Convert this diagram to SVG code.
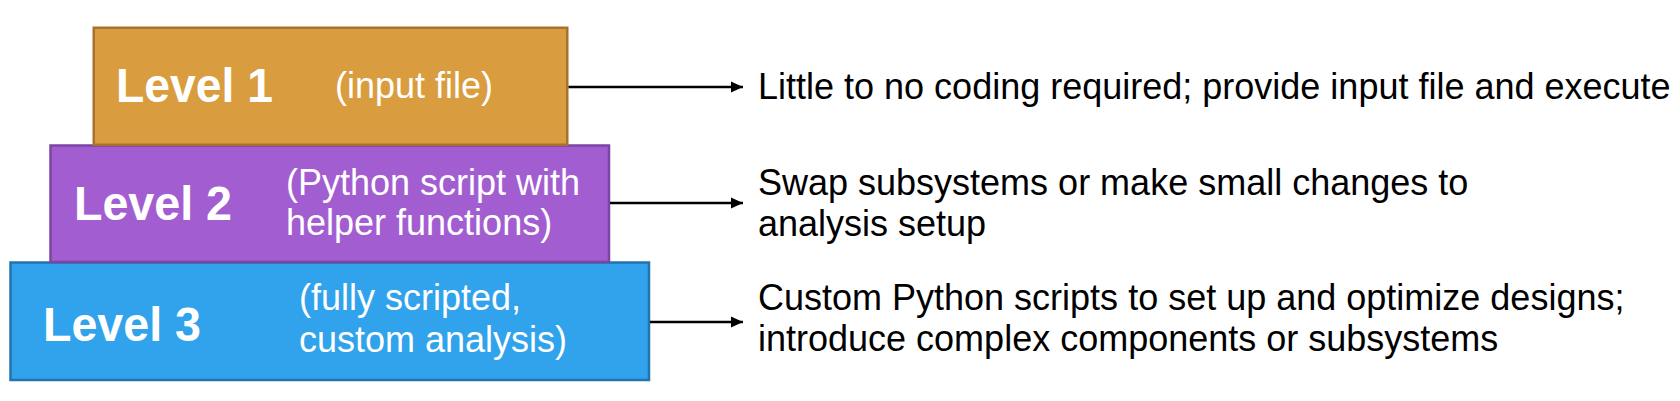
<svg xmlns="http://www.w3.org/2000/svg" width="1680" height="401" viewBox="0 0 1680 401">
  <style>
    .box { stroke-width: 2.5; }
    .lvl { font-family: "Liberation Sans", Arial, sans-serif; font-weight: bold; font-size: 49px; fill: #ffffff; }
    .sub { font-family: "Liberation Sans", Arial, sans-serif; font-size: 36px; fill: #ffffff; }
    .desc { font-family: "Liberation Sans", Arial, sans-serif; font-size: 36px; fill: #000000; }
    .conn { stroke: #000000; stroke-width: 2.5; fill: none; }
  </style>
  <defs>
    <marker id="arrow" markerUnits="userSpaceOnUse" markerWidth="14" markerHeight="12" refX="12" refY="6" orient="auto">
      <path d="M0,0.5 L12,6 L0,11.5 Z" fill="#000000"/>
    </marker>
  </defs>
  <rect width="1680" height="401" fill="#ffffff"/>

  <g id="level3">
    <rect class="box" x="10.5" y="262.5" width="638.5" height="117.5" fill="#31A2EC" stroke="#2373AE"/>
    <text class="lvl" x="43" y="341" textLength="158" lengthAdjust="spacingAndGlyphs">Level 3</text>
    <text class="sub" x="299" y="310">(fully scripted,</text>
    <text class="sub" x="299" y="352">custom analysis)</text>
  </g>

  <g id="level2">
    <rect class="box" x="50.5" y="145.5" width="558.5" height="116.5" fill="#A25ED1" stroke="#7B45A3"/>
    <text class="lvl" x="74" y="220" textLength="158" lengthAdjust="spacingAndGlyphs">Level 2</text>
    <text class="sub" x="286" y="195">(Python script with</text>
    <text class="sub" x="286" y="235">helper functions)</text>
  </g>

  <g id="level1">
    <rect class="box" x="93.75" y="27.75" width="473.5" height="117" fill="#D99C3F" stroke="#A6722D"/>
    <text class="lvl" x="116" y="102" textLength="157" lengthAdjust="spacingAndGlyphs">Level 1</text>
    <text class="sub" x="335" y="97.5">(input file)</text>
  </g>

  <g id="connectors">
    <line class="conn" x1="568.5" y1="87" x2="743" y2="87" marker-end="url(#arrow)"/>
    <line class="conn" x1="610" y1="203" x2="743" y2="203" marker-end="url(#arrow)"/>
    <line class="conn" x1="650" y1="322" x2="743" y2="322" marker-end="url(#arrow)"/>
  </g>

  <g id="desc1">
    <text class="desc" x="758" y="99">Little to no coding required; provide input file and execute</text>
  </g>
  <g id="desc2">
    <text class="desc" x="758" y="195">Swap subsystems or make small changes to</text>
    <text class="desc" x="758" y="236">analysis setup</text>
  </g>
  <g id="desc3">
    <text class="desc" x="758" y="310">Custom Python scripts to set up and optimize designs;</text>
    <text class="desc" x="758" y="351">introduce complex components or subsystems</text>
  </g>
</svg>
